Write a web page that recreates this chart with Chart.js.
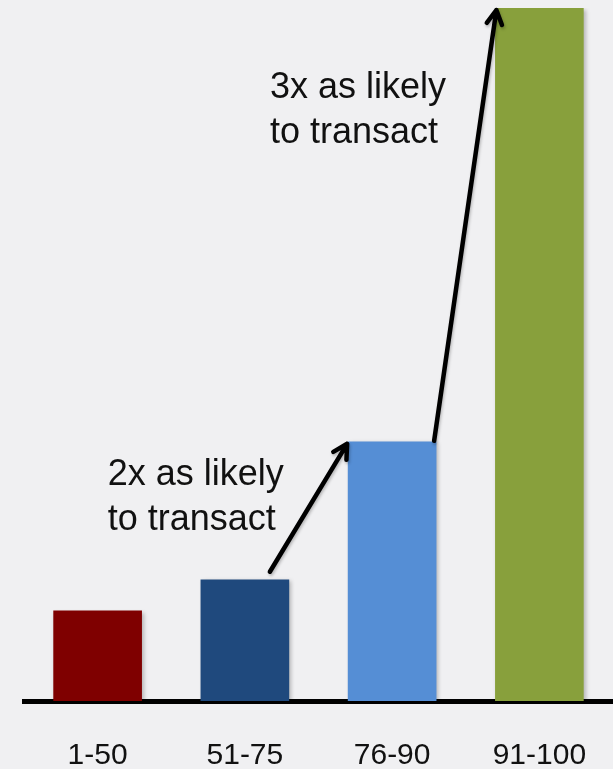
<!DOCTYPE html>
<html>
<head>
<meta charset="utf-8">
<script src="https://cdn.jsdelivr.net/npm/chart.js@4/dist/chart.umd.min.js"></script>
<style>
  html, body { margin: 0; padding: 0; background: #f0f0f2; overflow: hidden; }
  canvas { display: block; }
</style>
</head>
<body>
<canvas id="likelyChart" width="613" height="769"></canvas>
<script>
const categories = ['1-50', '51-75', '76-90', '91-100'];
const values = [13.0, 17.5, 37.4, 100];
const barColors = ['#7f0000', '#1f497d', '#558ed5', '#88a03c'];
const note2x = ['2x as likely', 'to transact'];
const note3x = ['3x as likely', 'to transact'];

// soft drop shadow under the bars, like the original slide
const shadowPlugin = {
  id: 'barShadow',
  beforeDatasetsDraw(chart) {
    const ctx = chart.ctx;
    ctx.save();
    ctx.shadowColor = 'rgba(0,0,0,0.25)';
    ctx.shadowBlur = 4;
    ctx.shadowOffsetX = 2;
    ctx.shadowOffsetY = 2;
  },
  afterDatasetsDraw(chart) {
    chart.ctx.restore();
  }
};

function arrow(ctx, x1, y1, x2, y2) {
  const ang = Math.atan2(y2 - y1, x2 - x1);
  const head = 16;
  ctx.beginPath();
  ctx.moveTo(x1, y1);
  ctx.lineTo(x2, y2);
  ctx.moveTo(x2 - head * Math.cos(ang - 0.5), y2 - head * Math.sin(ang - 0.5));
  ctx.lineTo(x2, y2);
  ctx.lineTo(x2 - head * Math.cos(ang + 0.5), y2 - head * Math.sin(ang + 0.5));
  ctx.stroke();
}

const notesPlugin = {
  id: 'notes',
  afterDraw(chart) {
    const ctx = chart.ctx;
    const bars = chart.getDatasetMeta(0).data;
    const xs = chart.scales.x;
    const ys = chart.scales.y;

    ctx.save();
    ctx.fillStyle = '#111';
    ctx.font = '36px "Liberation Sans", Arial, sans-serif';
    ctx.textBaseline = 'alphabetic';
    ctx.textAlign = 'left';
    const x2 = xs.getPixelForValue(0) + 10;
    ctx.fillText(note2x[0], x2, ys.getPixelForValue(31.2));
    ctx.fillText(note2x[1], x2, ys.getPixelForValue(24.7));
    const x3 = xs.getPixelForValue(1) + 25;
    ctx.fillText(note3x[0], x3, ys.getPixelForValue(87.0));
    ctx.fillText(note3x[1], x3, ys.getPixelForValue(80.5));

    ctx.strokeStyle = '#000';
    ctx.lineWidth = 4.5;
    ctx.lineCap = 'round';
    ctx.lineJoin = 'round';
    ctx.shadowColor = 'rgba(0,0,0,0.25)';
    ctx.shadowBlur = 3;
    ctx.shadowOffsetX = 1;
    ctx.shadowOffsetY = 2;
    const b1 = bars[1], b2 = bars[2], b3 = bars[3];
    arrow(ctx, b1.x + 25, b1.y - 8, b2.x - b2.width / 2 - 1, b2.y + 2);
    arrow(ctx, b2.x + b2.width / 2 - 2, b2.y - 1, b3.x - b3.width / 2 + 1, b3.y + 2);
    ctx.restore();
  }
};

const data = {
  labels: categories,
  datasets: [{
    data: values,
    backgroundColor: barColors,
    borderWidth: 0,
    barThickness: 88
  }]
};

const config = {
  type: 'bar',
  data: data,
  options: {
    responsive: false,
    devicePixelRatio: 1,
    animation: false,
    layout: { padding: { top: 8, left: 24, right: 0, bottom: 0 } },
    plugins: {
      legend: { display: false },
      tooltip: { enabled: false }
    },
    scales: {
      x: {
        z: 1,
        grid: { display: false, drawTicks: false },
        border: { display: true, color: '#000', width: 5 },
        ticks: {
          color: '#111',
          padding: 40,
          maxRotation: 0,
          font: { family: '"Liberation Sans", Arial, sans-serif', size: 30, lineHeight: 1 }
        },
        afterFit(scale) {
          scale.height = 68;
          scale.paddingLeft = 0;
          scale.paddingRight = 0;
        }
      },
      y: {
        display: false,
        min: 0,
        max: 100
      }
    }
  },
  plugins: [shadowPlugin, notesPlugin]
};

new Chart(document.getElementById('likelyChart'), config);
</script>
</body>
</html>
